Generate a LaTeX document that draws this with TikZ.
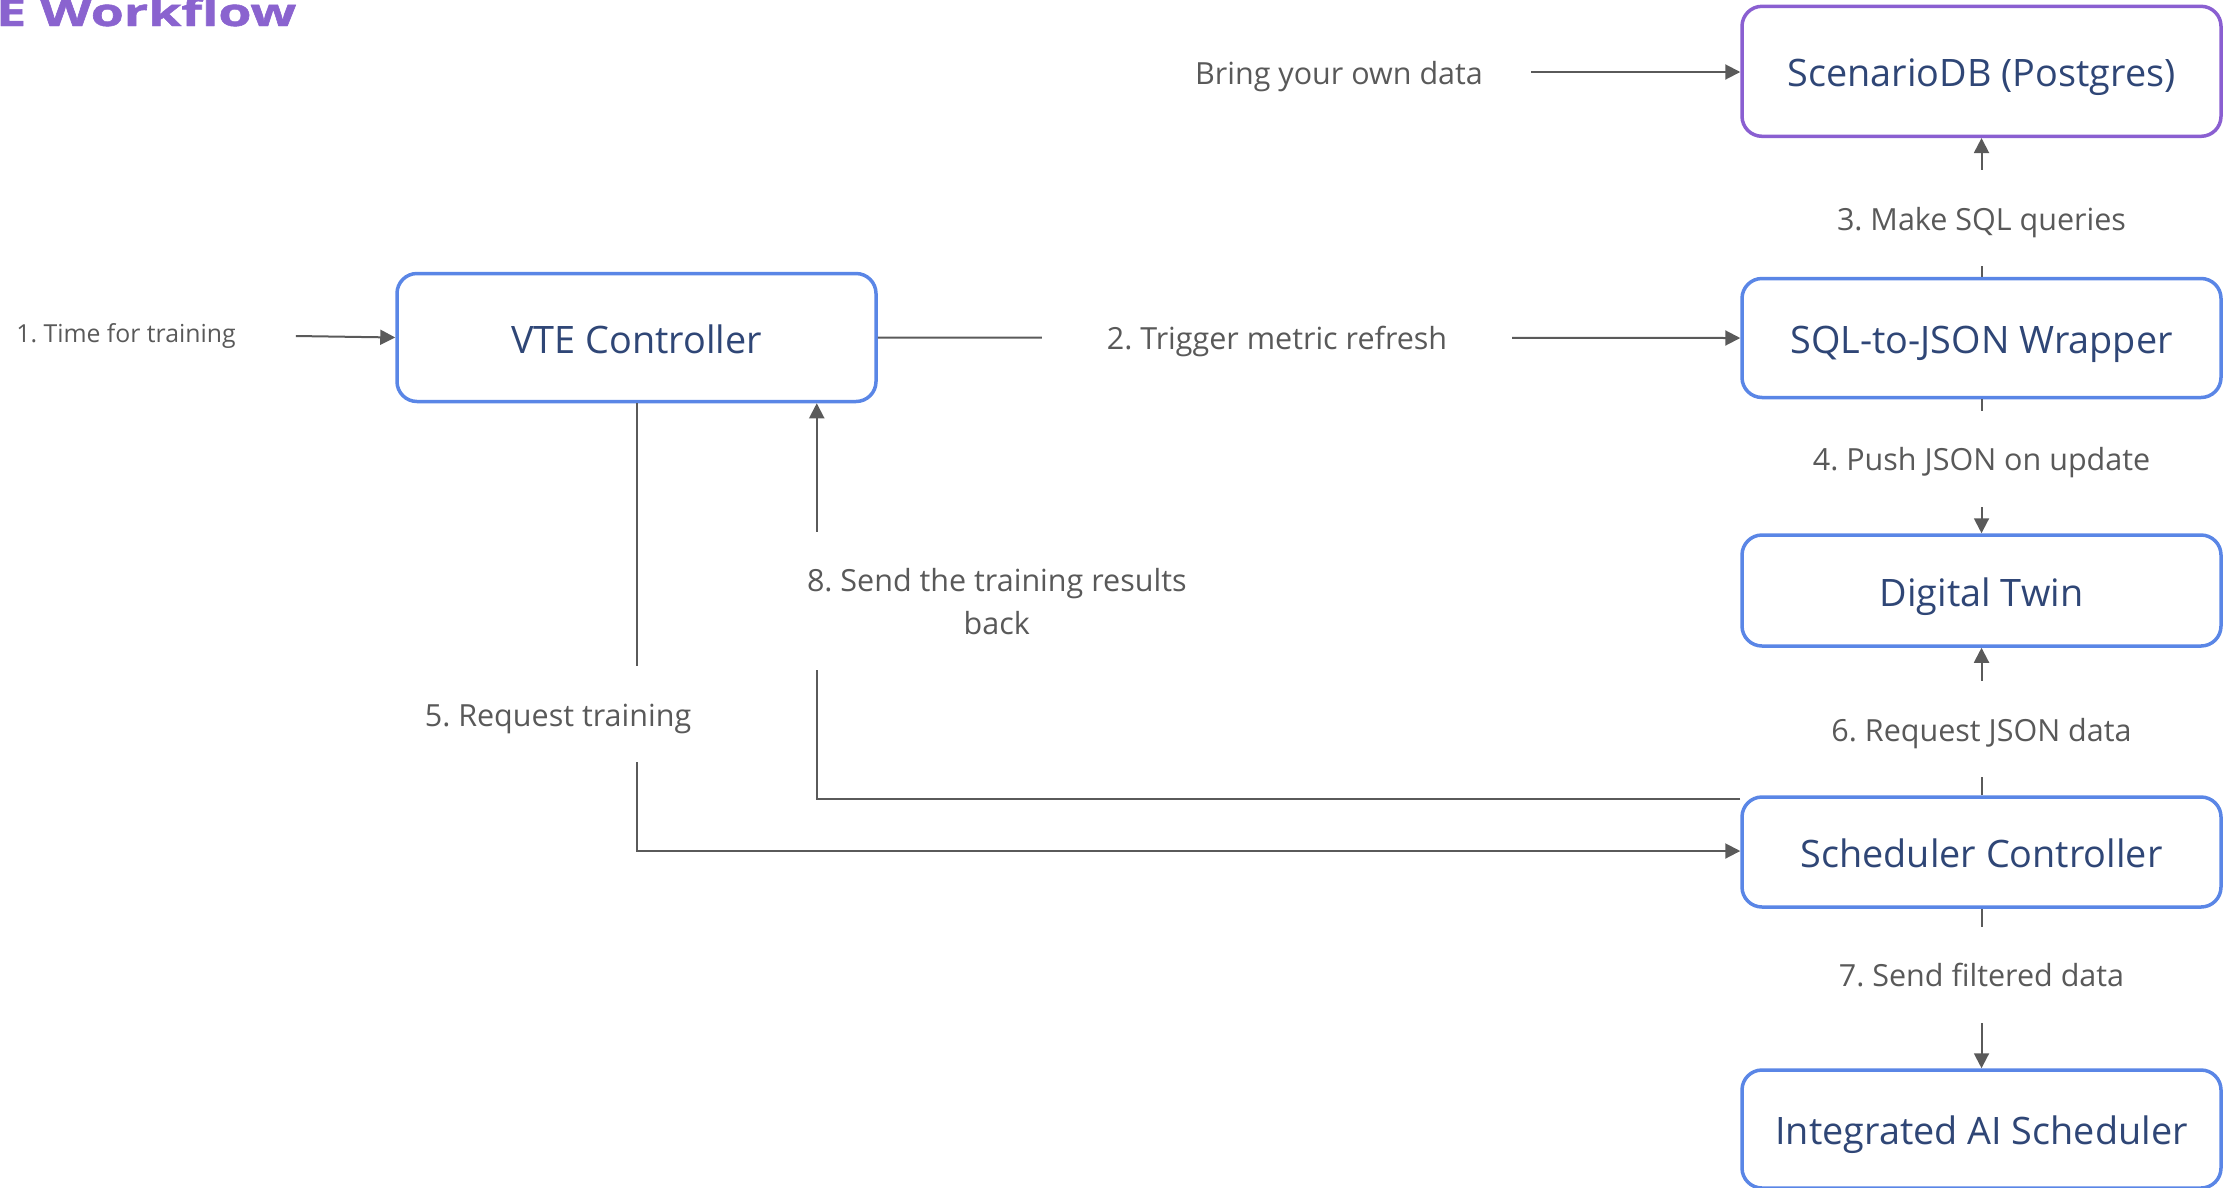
\documentclass[tikz,border=0pt]{standalone}
\usepackage{fontspec}
\setmainfont{Open Sans}
\newfontfamily\titlefont[BoldFeatures={FakeBold=1.2}]{Open Sans}
\usetikzlibrary{arrows.meta,calc}
\definecolor{boxblue}{HTML}{5A86E6}
\definecolor{dbpurple}{HTML}{8A5FD1}
\definecolor{titlepurple}{HTML}{8A63CF}
\definecolor{boxtext}{HTML}{2F4676}
\definecolor{linegrey}{HTML}{5A5A5A}
\definecolor{labelgrey}{HTML}{595959}
\frenchspacing
\begin{document}
\begin{tikzpicture}[x=1pt,y=-1pt,
  box/.style={draw=boxblue, line width=3.5pt, rounded corners=20pt,
    minimum width=479pt, text=boxtext, inner sep=0pt,
    font=\fontsize{37.8}{45}\selectfont, text height=31pt, text depth=0pt},
  arr/.style={draw=linegrey, line width=2pt, -{Triangle[length=15pt,width=15pt]}},
  note/.style={text=labelgrey, font=\fontsize{30.5}{43}\selectfont,
    text height=27pt, text depth=3pt},
  lbl/.style={note, fill=white, inner xsep=65pt, inner ysep=33pt},
]
\useasboundingbox (0,0) rectangle (2229,1187);

% title
\node[anchor=base west, inner sep=0pt, text=titlepurple,
  font=\titlefont\bfseries\fontsize{38.5}{42}\selectfont] (title) at (-4,26)
  {\scalebox{1.39}[1]{E Workflow}};

% components
\node[box, draw=dbpurple, minimum height=130pt] (db) at (1981.5,71.3) {ScenarioDB (Postgres)};
\node[box, minimum height=119pt] (wrap) at (1981.5,338) {SQL-to-JSON Wrapper};
\node[box, minimum height=111pt] (twin) at (1981.5,590.5) {Digital Twin};
\node[box, minimum height=110pt] (sched) at (1981.5,852) {Scheduler Controller};
\node[box, minimum height=118pt] (ai) at (1981.5,1129) {Integrated AI Scheduler};
\node[box, minimum height=128pt] (vte) at (636.5,337.5) {VTE Controller};

% external inputs
\node[note, inner xsep=48pt] (byod) at (1339,72) {Bring your own data};
\draw[arr] (byod.east) -- (byod.east -| db.west);
\node[note, inner xsep=60pt, font=\fontsize{24.8}{30}\selectfont,
  text height=19pt, text depth=6pt] (t1) at (126,336) {1. Time for training};
\draw[arr] (t1.east) -- (vte.west);

% numbered steps
\draw[arr] (vte.east) -- (wrap.west)
  node[lbl, pos=0.463] {2. Trigger metric refresh};
\draw[arr] (wrap.north) -- (db.south)
  node[lbl, pos=0.421] {3. Make SQL queries};
\draw[arr] (wrap.south) -- (twin.north)
  node[lbl, pos=0.445] {4. Push JSON on update};
\coordinate (s5) at ([yshift=1pt]sched.west);
\draw[arr] (vte.south) |- (s5)
  node[lbl, pos=0.347, xshift=-78.5pt] {5. Request training};
\draw[arr] (sched.north) -- (twin.south)
  node[lbl, pos=0.449] {6. Request JSON data};
\draw[arr] (sched.south) -- (ai.north)
  node[lbl, pos=0.415] {7. Send filtered data};

\coordinate (s8) at ([yshift=53pt]sched.west);
\coordinate (v8) at ([xshift=-61pt]vte.south east);
\draw[arr] (s8) -| (v8)
  node[fill=white, text=labelgrey, font=\fontsize{30.5}{43}\selectfont,
    align=center, inner xsep=8pt, inner ysep=0pt, minimum height=138pt,
    pos=0.75, xshift=180pt] {8. Send the training results\\back};
\end{tikzpicture}
\end{document}
